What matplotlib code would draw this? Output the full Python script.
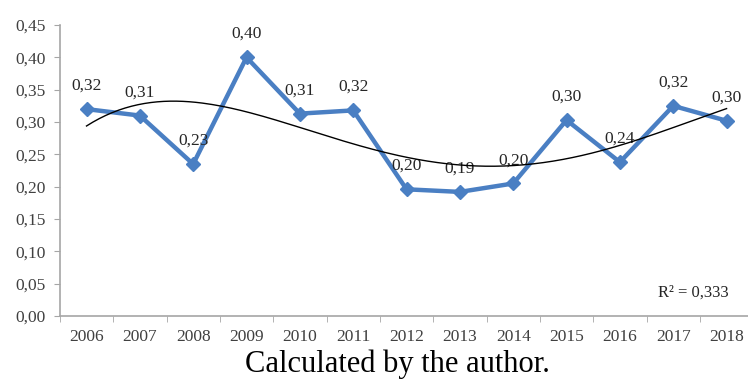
import numpy as np
import matplotlib.pyplot as plt

years = ["2006", "2007", "2008", "2009", "2010", "2011", "2012",
         "2013", "2014", "2015", "2016", "2017", "2018"]
values = [0.32, 0.31, 0.235, 0.40, 0.313, 0.318, 0.196,
          0.192, 0.205, 0.303, 0.238, 0.325, 0.302]
labels = ["0,32", "0,31", "0,23", "0,40", "0,31", "0,32", "0,20",
          "0,19", "0,20", "0,30", "0,24", "0,32", "0,30"]
yticks = [0.00, 0.05, 0.10, 0.15, 0.20, 0.25, 0.30, 0.35, 0.40, 0.45]

plt.rcParams['font.family'] = ['Liberation Serif', 'DejaVu Serif']

fig = plt.figure(figsize=(7.48, 3.79), dpi=100)
ax = fig.add_axes([0.080, 0.166, 0.927, 0.768])

x = np.arange(len(years))
blue = '#4a7fc3'
ax.plot(x, values, color=blue, lw=3.2, marker='D', ms=7.5, zorder=3)

# polynomial trend line (4th order, R^2 ~ 0.333)
coef = np.polyfit(x, values, 4)
xs = np.linspace(0, 12, 200)
ax.plot(xs, np.polyval(coef, xs), color='black', lw=1.0, zorder=4)

for xi, v, lab in zip(x, values, labels):
    ax.annotate(lab, (xi, v), xytext=(0, 11), textcoords='offset points',
                ha='center', va='bottom', fontsize=12.5, color='#262626')

ax.text(0.965, 0.08, 'R² = 0,333', transform=ax.transAxes, ha='right',
        va='center', fontsize=12, color='#262626')

ax.set_xlim(-0.5, 12.5)
ax.set_ylim(0, 0.45)
ax.set_xticks(x)
ax.set_xticklabels(years)
ax.set_xticks(np.arange(-0.5, 12.6, 1), minor=True)
ax.set_yticks(yticks)
ax.set_yticklabels([f"{t:.2f}".replace('.', ',') for t in yticks])

ax.tick_params(axis='x', which='major', length=0, pad=9, labelsize=12.5,
               labelcolor='#404040')
ax.tick_params(axis='x', which='minor', length=4, color='#a6a6a6')
ax.tick_params(axis='y', length=4, color='#a6a6a6', labelsize=12.5,
               labelcolor='#404040', pad=6)

for s in ['top', 'right']:
    ax.spines[s].set_visible(False)
for s in ['left', 'bottom']:
    ax.spines[s].set_color('#a6a6a6')
    ax.spines[s].set_linewidth(1.2)

fig.text(0.532, 0.0, 'Calculated by the author.', ha='center', va='bottom',
         fontsize=22, color='black')

fig.savefig('out.png', dpi=100)
